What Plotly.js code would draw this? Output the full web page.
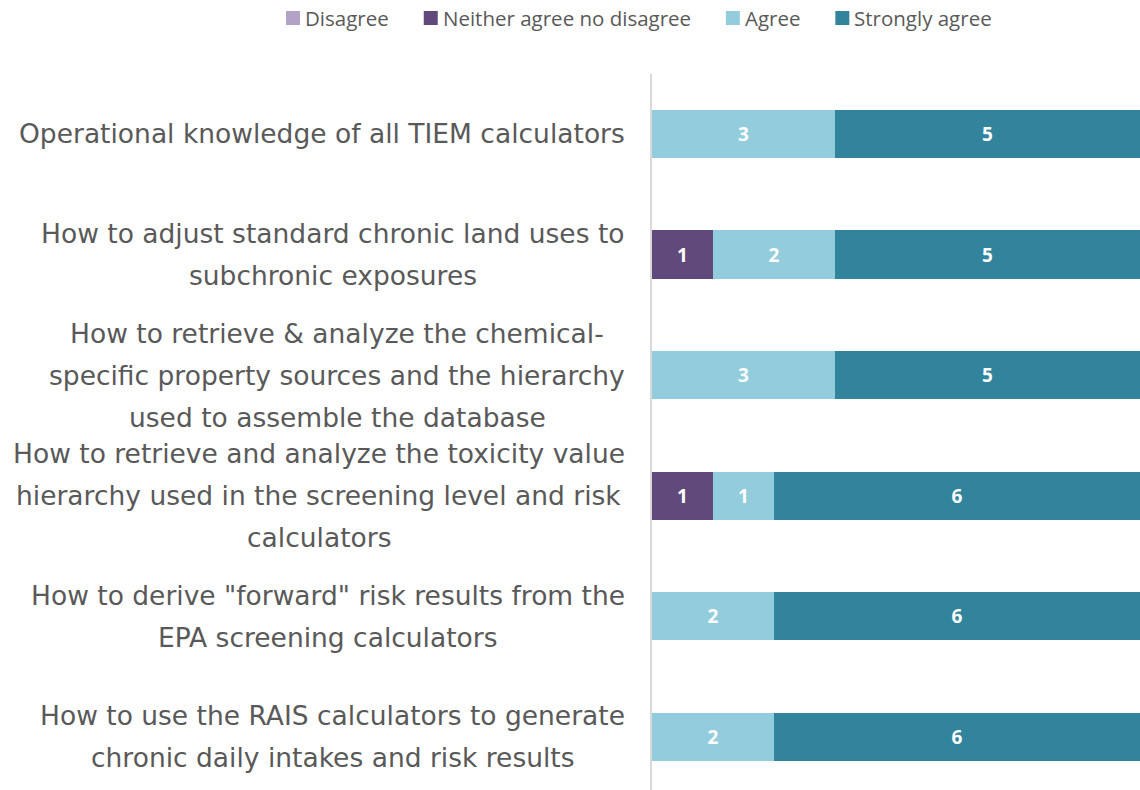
<!DOCTYPE html>
<html>
<head>
<meta charset="utf-8">
<script src="https://cdn.plot.ly/plotly-3.0.1.min.js"></script>
<style>html,body{margin:0;padding:0;background:#fff;}#chart{width:1140px;height:790px;}</style>
</head>
<body>
<div id="chart"></div>
<script>
const categories = [
  "Operational knowledge of all TIEM calculators",
  "How to adjust standard chronic land uses to<br>subchronic exposures",
  "How to retrieve & analyze the chemical-<br>specific property sources and the hierarchy<br>used to assemble the database",
  "How to retrieve and analyze the toxicity value<br>hierarchy used in the screening level and risk<br>calculators",
  "How to derive \"forward\" risk results from the<br>EPA screening calculators",
  "How to use the RAIS calculators to generate<br>chronic daily intakes and risk results"
];
const seriesNames = ["Disagree", "Neither agree no disagree", "Agree", "Strongly agree"];
const disagree = [0, 0, 0, 0, 0, 0];
const neither = [0, 1, 0, 1, 0, 0];
const agree = [3, 2, 3, 1, 2, 2];
const stronglyAgree = [5, 5, 5, 6, 6, 6];
const colors = ["#B3A2C7", "#604A7B", "#93CDDD", "#31849B"];

const W = 1140, H = 790, ML = 652, MT = 74;
const plotW = W - ML, plotH = H - MT;
const px2x = p => (p - ML) / plotW;
const py2y = p => (H - p) / plotH;

const seriesValues = [disagree, neither, agree, stronglyAgree];
const traces = seriesValues.map((vals, i) => ({
  type: 'bar',
  orientation: 'h',
  name: seriesNames[i],
  y: categories,
  x: vals,
  text: vals.map(v => v > 0 ? String(v) : ''),
  textposition: 'inside',
  insidetextanchor: 'middle',
  constraintext: 'none',
  textfont: {family: 'Open Sans', size: 19, color: '#ffffff', weight: 700},
  marker: {color: colors[i], line: {width: 0}},
  hoverinfo: 'skip'
}));

const cv = document.createElement('canvas').getContext('2d');

// category labels (each line placed separately to match line spacing)
const labelSize = 26.5;
cv.font = labelSize + 'px "DejaVu Sans"';
const annotations = [];
const shapes = [];
const lineGap = 42;
categories.forEach((c, ci) => {
  const lines = c.split('<br>');
  const maxW = Math.max(...lines.map(l => cv.measureText(l).width));
  const centerShift = -27 - maxW / 2;
  const n = lines.length;
  lines.forEach((l, k) => {
    annotations.push({
      xref: 'paper', yref: 'y', x: 0, y: ci,
      xanchor: 'center', yanchor: 'middle',
      xshift: centerShift,
      yshift: -(k - (n - 1) / 2) * lineGap,
      text: l, showarrow: false,
      font: {family: 'DejaVu Sans', size: labelSize, color: '#595959'}
    });
  });
});

// legend drawn manually
const legSize = 20.5;
cv.font = legSize + 'px "Open Sans"';
const sq = 14, sqGap = 3, itemGap = 37;
const widths = seriesNames.map(s => cv.measureText(s).width);
const total = widths.reduce((a, w) => a + sq + sqGap + w, 0) + itemGap * (seriesNames.length - 1);
let cx = 638 - total / 2;
const legY = 18;
seriesNames.forEach((s, i) => {
  shapes.push({
    type: 'rect', xref: 'paper', yref: 'paper',
    x0: px2x(cx), x1: px2x(cx + sq), y0: py2y(legY + sq / 2), y1: py2y(legY - sq / 2),
    fillcolor: colors[i], line: {width: 0}
  });
  annotations.push({
    xref: 'paper', yref: 'paper', x: px2x(cx + sq + sqGap), y: py2y(legY),
    xanchor: 'left', yanchor: 'middle', showarrow: false,
    text: s, font: {family: 'Open Sans', size: legSize, color: '#595959'}
  });
  cx += sq + sqGap + widths[i] + itemGap;
});

const layout = {
  width: W, height: H,
  margin: {l: ML, r: 0, t: MT, b: 0, pad: 0},
  paper_bgcolor: '#ffffff', plot_bgcolor: '#ffffff',
  barmode: 'stack', bargap: 0.6,
  showlegend: false,
  xaxis: {range: [0, 8], showgrid: false, zeroline: false, showticklabels: false, ticks: '', showline: false, fixedrange: true},
  yaxis: {type: 'category', range: [5.44, -0.4975], showgrid: false, zeroline: false, showticklabels: false, ticks: '',
          showline: true, linecolor: '#D9D9D9', linewidth: 2, fixedrange: true},
  annotations: annotations,
  shapes: shapes
};

Plotly.newPlot('chart', traces, layout, {displayModeBar: false, staticPlot: true});
</script>
</body>
</html>
